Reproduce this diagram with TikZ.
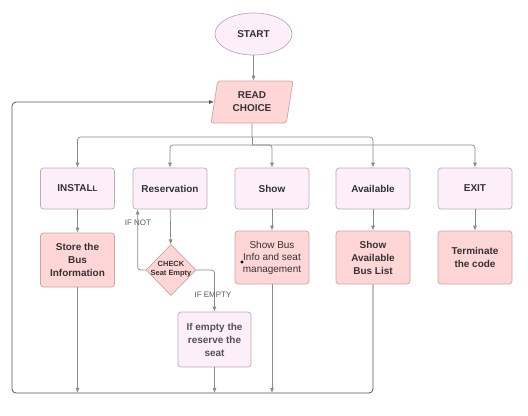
\documentclass[tikz,border=0pt]{standalone}
\usepackage{fontspec}
\setmainfont{Liberation Sans}
\usetikzlibrary{shapes.geometric,arrows.meta}
\definecolor{lpink}{HTML}{FDEFFA}
\definecolor{lborder}{HTML}{BBAABB}
\definecolor{dpink}{HTML}{FFD6D6}
\definecolor{dborder}{HTML}{C9A5A5}
\definecolor{txt}{HTML}{333333}
\definecolor{lne}{HTML}{8A8A8A}
\definecolor{loop}{HTML}{555555}
\tikzset{
  base/.style={text=txt, font=\fontsize{10}{13}\selectfont\bfseries, align=center, inner sep=1bp},
  lightbox/.style={base, rectangle, rounded corners=3bp, fill=lpink, draw=lborder, line width=0.7bp, minimum width=74bp},
  darkbox/.style={base, rectangle, rounded corners=3bp, fill=dpink, draw=dborder, line width=0.7bp, minimum width=74bp},
  arr/.style={draw=lne, line width=0.7bp, -{Latex[length=5bp,width=4bp]}, rounded corners=3bp},
  ln/.style={draw=lne, line width=0.7bp, rounded corners=3bp},
  lbl/.style={text=txt!80, font=\fontsize{8}{9}\selectfont, inner sep=0.5bp},
}
\begin{document}
\begin{tikzpicture}[x=1bp,y=-1bp]
\useasboundingbox (0,0) rectangle (528,415);
\fill[white] (0,0) rectangle (528,415);

\node[base, ellipse, fill=lpink, draw=lborder, line width=0.7bp, minimum width=77bp, minimum height=42bp] (start) at (253.5,34) {START};
\node[base, trapezium, trapezium left angle=80, trapezium right angle=100, trapezium stretches=true, minimum width=82bp, minimum height=42bp, fill=dpink, draw=dborder, line width=0.7bp, rounded corners=2bp] (read) at (252,102) {READ\\CHOICE};

\node[lightbox, minimum height=41bp] (install) at (77.5,188.5) {INSTAL{\fontsize{8}{10}\selectfont L}};
\node[lightbox, minimum height=41bp] (reserv) at (170,188.5) {Reservation};
\node[lightbox, minimum height=41bp] (show) at (272,188.5) {Show};
\node[lightbox, minimum height=41bp] (avail) at (373,188.5) {Available};
\node[lightbox, minimum height=41bp] (exit) at (475,188.5) {EXIT};

\node[darkbox, minimum height=54bp] (store) at (77.5,260) {Store the\\Bus\\Information};
\node[darkbox, minimum height=53bp, font=\fontsize{10}{12}\selectfont] (showbus) at (272,257.5) {Show Bus\\Info and seat\\management};
\node[darkbox, minimum height=53bp] (availlist) at (373,257.5) {Show\\Available\\Bus List};
\node[darkbox, minimum height=53bp] (term) at (475,257.5) {Terminate\\the code};

\node[diamond, fill=dpink, draw=dborder, line width=0.7bp, minimum width=50bp, minimum height=51bp, inner sep=0pt] (dia) at (171,270) {};
\node[base, font=\fontsize{7.5}{9}\selectfont\bfseries] (diatext) at (171,269) {CHECK\\Seat Empty};

\node[lightbox, minimum height=55bp, minimum width=73bp, text=txt!85] (ifempty) at (214.5,339.5) {If empty the\\reserve the\\seat};

\fill[black] (242,262) circle (1.7bp);

% connectors
\draw[arr] (start.south) -- (start.south |- read.north);
\coordinate (j1) at (252,137);
\coordinate (j2) at (252,145);
\draw[ln] (read.south) -- (j1);
\draw[arr] (j1) -| (install.north);
\draw[arr] (j1) -| (avail.north);
\draw[ln] (j1) -- (j2);
\draw[arr] (j2) -| (reserv.north);
\draw[arr] (j2) -| (show.north);
\draw[arr] (j2) -| (exit.north);

\draw[arr] (install) -- (store);
\draw[arr] (reserv) -- (dia);
\draw[arr] (show) -- (showbus);
\draw[arr] (avail) -- (availlist);
\draw[arr] (exit) -- (term);

\draw[arr] (dia.west) -| ([xshift=5bp]reserv.south west);
\node[lbl] (ifnot) at (138,223) {IF NOT};
\draw[arr] (dia.east) -| (ifempty.north);
\node[lbl] (ifemp) at (213,295) {IF EMPTY};

\coordinate (bl) at (12,393);
\draw[arr] (store.south) -- (store.south |- bl);
\draw[arr] (ifempty.south) -- (ifempty.south |- bl);
\draw[arr] (showbus.south) -- (showbus.south |- bl);
\draw[draw=loop, line width=0.8bp, rounded corners=4bp, -{Latex[length=5bp,width=4bp]}] (availlist.south) |- (bl) |- (read.west);
\end{tikzpicture}
\end{document}
